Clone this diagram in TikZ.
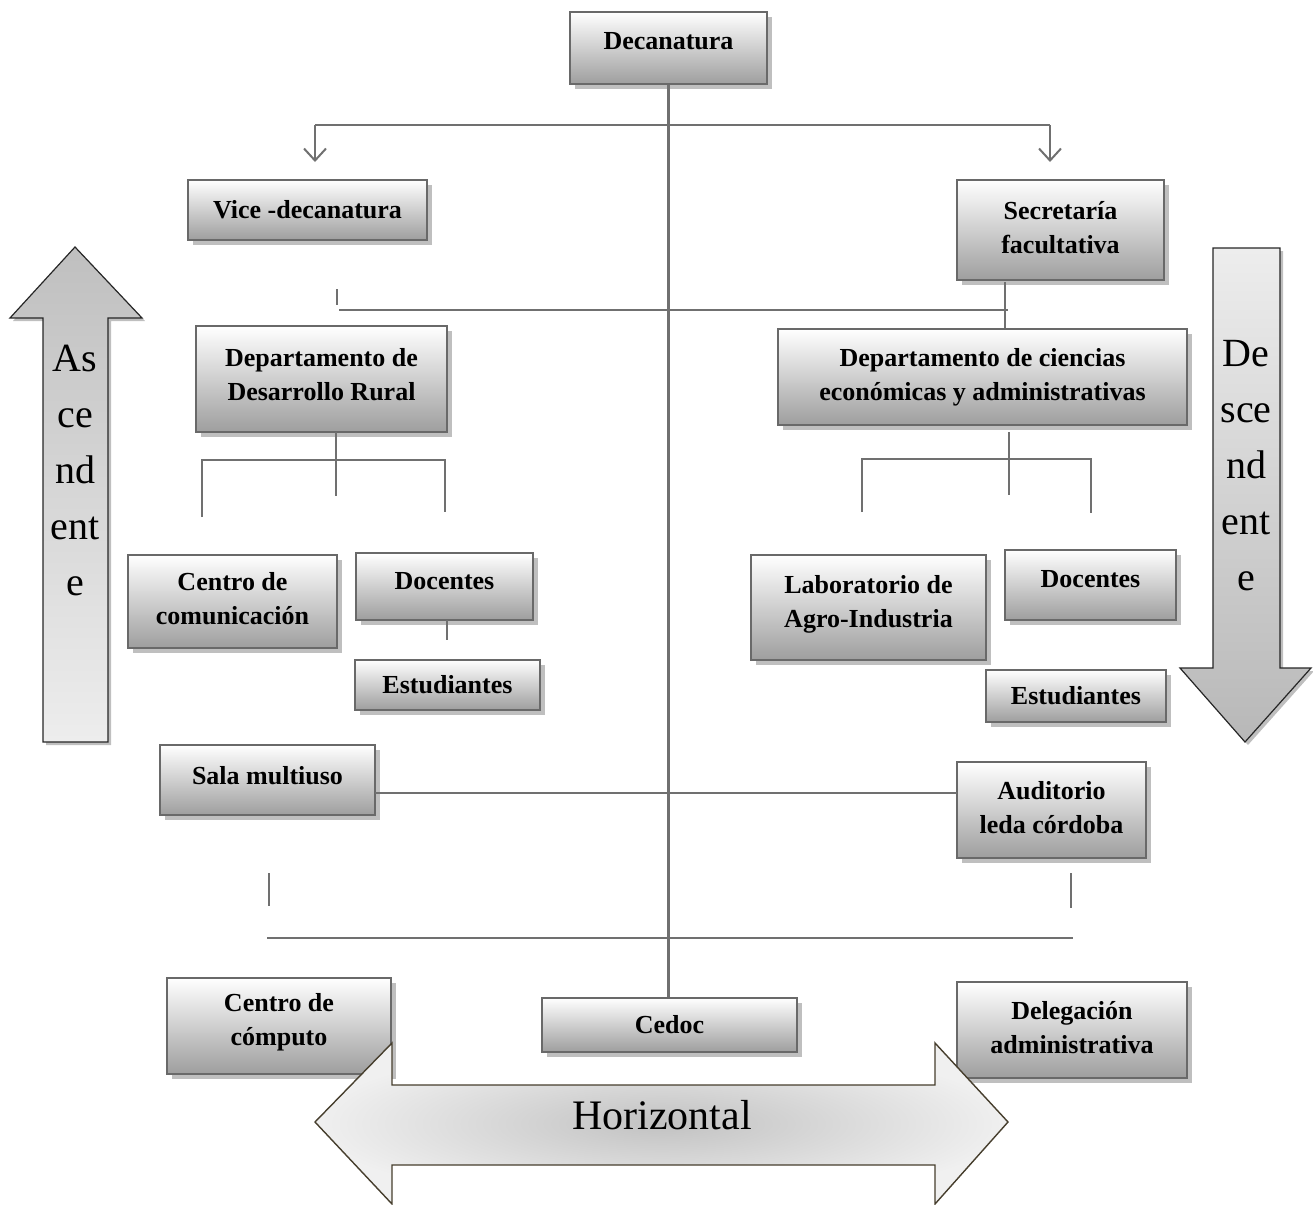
\documentclass[tikz,border=0pt]{standalone}
\usepackage{fontspec}
\setmainfont{Liberation Serif}
\usetikzlibrary{shadows,arrows.meta,positioning}

\definecolor{lineagris}{RGB}{112,112,112}
\definecolor{bordegris}{RGB}{105,105,105}
\definecolor{bordeflecha}{RGB}{70,62,45}

\tikzset{
  unidad/.style={rectangle, draw=bordegris, line width=1.3pt,
    top color=white, bottom color=black!38,
    drop shadow={shadow xshift=2.5pt, shadow yshift=-2.5pt, fill=black!25, opacity=1},
    font=\fontsize{13}{17}\selectfont\bfseries, align=center, inner sep=2pt},
  alza/.style={text depth=#1},
  enlace/.style={draw=lineagris, line width=1.2pt},
  baja/.style={enlace, -{Straight Barb[length=6pt, width=11pt, line width=1pt]}},
  flecha/.style={draw=black!85, line width=0.6pt,
    drop shadow={shadow xshift=1.5pt, shadow yshift=-1.5pt, fill=black!25, opacity=1}},
  rotulo/.style={font=\fontsize{20}{28}\selectfont, align=center, inner sep=0pt}
}

\begin{document}
\begin{tikzpicture}[x=0.5pt, y=-0.5pt]
  \useasboundingbox (0,0) rectangle (1313,1205);

  % flechas laterales
  \path[flecha, top color=black!25, bottom color=black!7]
    (43,742) -- (43,318) -- (10,318) -- (75,247) -- (142,318) -- (108,318) -- (108,742) -- cycle;
  \node[rotulo] (asc) at (75,470) {As\\ce\\nd\\ent\\e};
  \path[flecha, top color=black!7, bottom color=black!28]
    (1213,248) -- (1280,248) -- (1280,668) -- (1311,668) -- (1245,742) -- (1180,668) -- (1213,668) -- cycle;
  \node[rotulo] (desc) at (1246,466) {De\\sce\\nd\\ent\\e};

  % unidades
  \node[unidad, alza=7pt, minimum width=98.5pt, minimum height=36pt] (deca) at (668.5,48) {Decanatura};
  \node[unidad, minimum width=119.5pt, minimum height=30pt] (vice) at (307.5,210) {Vice -decanatura};
  \node[unidad, alza=3pt, minimum width=103.5pt, minimum height=50pt] (secre) at (1060.5,230) {Secretaría\\facultativa};
  \node[unidad, alza=5pt, minimum width=125.5pt, minimum height=53pt] (drural) at (321.5,379) {Departamento de\\Desarrollo Rural};
  \node[unidad, minimum width=204.5pt, minimum height=48pt] (dcienc) at (982.5,377) {Departamento de ciencias\\económicas y administrativas};
  \node[unidad, alza=3pt, minimum width=104.5pt, minimum height=46.5pt] (ccomun) at (232.5,601.5) {Centro de\\comunicación};
  \node[unidad, alza=6pt, minimum width=88.5pt, minimum height=33.5pt] (docL) at (444.5,586.5) {Docentes};
  \node[unidad, minimum width=92.5pt, minimum height=25pt] (estL) at (447.5,685) {Estudiantes};
  \node[unidad, alza=6pt, minimum width=117.5pt, minimum height=52.5pt] (labo) at (868.5,607.5) {Laboratorio de\\Agro-Industria};
  \node[unidad, alza=6pt, minimum width=85.5pt, minimum height=35pt] (docR) at (1090.5,585) {Docentes};
  \node[unidad, minimum width=90pt, minimum height=26pt] (estR) at (1076,696) {Estudiantes};
  \node[unidad, alza=5pt, minimum width=107.5pt, minimum height=35pt] (sala) at (267.5,780) {Sala multiuso};
  \node[unidad, alza=3pt, minimum width=94.5pt, minimum height=48pt] (audi) at (1051.5,810) {Auditorio\\leda córdoba};
  \node[unidad, alza=7pt, minimum width=112pt, minimum height=48pt] (ccomp) at (279,1026) {Centro de\\cómputo};
  \node[unidad, minimum width=127.5pt, minimum height=27pt] (cedoc) at (669.5,1025) {Cedoc};
  \node[unidad, alza=3pt, minimum width=115pt, minimum height=48pt] (deleg) at (1072,1030) {Delegación\\administrativa};

  % tronco central
  \draw[enlace] (deca.south) -- (deca.south |- cedoc.north);

  % vice y secretaria
  \coordinate (ral) at (315,125);
  \coordinate (rar) at (1050,125);
  \coordinate (pvl) at (315,162);
  \coordinate (pvr) at (1050,162);
  \draw[enlace] (ral) -- (rar);
  \draw[baja] (ral) -- (pvl);
  \draw[baja] (rar) -- (pvr);

  % departamentos
  \coordinate (tk1) at (337,289);
  \coordinate (tk2) at (337,305);
  \coordinate (hd1) at (339,310);
  \coordinate (hd2) at (1008,310);
  \coordinate (vs) at (1005,282);
  \draw[enlace] (tk1) -- (tk2);
  \draw[enlace] (hd1) -- (hd2);
  \draw[enlace] (vs) -- (vs |- dcienc.north);

  % ramas izquierda
  \coordinate (il1) at (336,432);
  \coordinate (il2) at (336,496);
  \coordinate (il3) at (202,460);
  \coordinate (il4) at (445,460);
  \coordinate (il5) at (202,517);
  \coordinate (il6) at (445,512);
  \draw[enlace] (il1) -- (il2);
  \draw[enlace] (il5) -- (il3) -- (il4) -- (il6);
  \draw[enlace] (447,620) coordinate (dl1) -- (447,640) coordinate (dl2);

  % ramas derecha
  \coordinate (dr1) at (1009,432);
  \coordinate (dr2) at (1009,495);
  \coordinate (dr3) at (862,459);
  \coordinate (dr4) at (1091,459);
  \coordinate (dr5) at (862,512);
  \coordinate (dr6) at (1091,513);
  \draw[enlace] (dr1) -- (dr2);
  \draw[enlace] (dr5) -- (dr3) -- (dr4) -- (dr6);

  % sala - auditorio
  \coordinate (sa1) at (375,793);
  \coordinate (sa2) at (957,793);
  \draw[enlace] (sa1) -- (sa2);

  % nivel inferior
  \coordinate (bi1) at (269,873);
  \coordinate (bi2) at (269,906);
  \coordinate (bd1) at (1071,873);
  \coordinate (bd2) at (1071,908);
  \coordinate (bh1) at (267,938);
  \coordinate (bh2) at (1073,938);
  \draw[enlace] (bi1) -- (bi2);
  \draw[enlace] (bd1) -- (bd2);
  \draw[enlace] (bh1) -- (bh2);

  % flecha horizontal
  \path[draw=bordeflecha, line width=0.7pt, inner color=black!24, outer color=black!6]
    (315,1122) -- (392,1043) -- (392,1085) -- (935,1085) -- (935,1043) -- (1008,1122)
    -- (935,1204) -- (935,1165) -- (392,1165) -- (392,1204) -- cycle;
  \node[rotulo, font=\fontsize{21}{25}\selectfont] (hori) at (662,1115) {Horizontal};
\end{tikzpicture}
\end{document}
